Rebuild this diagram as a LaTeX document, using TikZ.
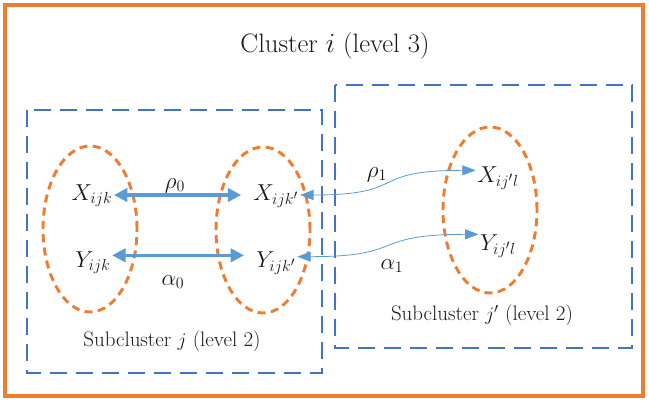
\documentclass[tikz,border=0pt]{standalone}
\usetikzlibrary{positioning,shapes.geometric,arrows.meta}
\DeclareMathSizes{17}{17}{12.5}{10}
\definecolor{clorange}{RGB}{237,125,49}
\definecolor{clblue}{RGB}{68,114,196}
\definecolor{arrblue}{RGB}{91,155,213}
\definecolor{txtgray}{RGB}{25,25,25}
\tikzset{outer/.style={draw=clorange, line width=2.4pt},
  subbox/.style={draw=clblue, line width=2.2pt, dash pattern=on 13pt off 6.5pt},
  group/.style={ellipse, draw=clorange, line width=2.2pt, dash pattern=on 6pt off 4pt, minimum width=70.5pt, minimum height=124.5pt},
  var/.style={text=txtgray, font=\fontsize{17}{19}\selectfont, inner sep=1pt, text height=13pt, text depth=5pt},
  lbl/.style={text=txtgray, font=\fontsize{15.7}{18}\selectfont, inner sep=1pt},
  link/.style={arrblue, line width=2.3pt, {Triangle[length=10pt,width=10pt]}-{Triangle[length=10pt,width=10pt]}},
  thinlink/.style={arrblue, line width=0.6pt, {Triangle[length=10pt,width=7.5pt]}-{Triangle[length=10pt,width=7.5pt]}}}

\begin{document}
\begin{tikzpicture}[x=0.75pt,y=-0.75pt]
    \useasboundingbox (0,0) rectangle (649,400);
    \draw[outer] (5,5) rectangle (643,396);
    \node[lbl, font=\fontsize{20}{24}\selectfont] (title) at (335,46) {Cluster $i$ (level 3)};

    % subclusters
    \draw[subbox] (27,110) rectangle (322,373);
    \draw[subbox] (335,85) rectangle (632,348);

    \node[group] (ga) at (90,229) {};
    \node[group] (gb) at (263,230) {};
    \node[group] (gc) at (490,210) {};

    \node[var] (xa) at (92,195) {$X_{ijk}$};
    \node[var] (ya) at (93,262) {$Y_{ijk}$};
    \node[var] (xb) at (276,195) {$X_{ijk'}$};
    \node[var] (yb) at (276,262) {$Y_{ijk'}$};
    \node[var] (xc) at (498,177) {$X_{ij'l}$};
    \node[var] (yc) at (498,245) {$Y_{ij'l}$};

    \draw[link] (xa.east) -- ([xshift=-8pt]xb.west);
    \draw[link] ([yshift=5pt]ya.east) -- ([yshift=5pt,xshift=-8pt]yb.west);
    \draw[thinlink] (xb.east) .. controls +(110,0) and +(-110,0) .. ([yshift=5pt]xc.west);
    \draw[thinlink] ([yshift=4pt]yb.east) .. controls +(110,0) and +(-110,0) .. ([yshift=8pt]yc.west);

    \node[var] (rho0) at (175,183) {$\rho_0$};
    \node[var] (alpha0) at (173,280) {$\alpha_0$};
    \node[var] (rho1) at (377,172) {$\rho_1$};
    \node[var] (alpha1) at (392,264) {$\alpha_1$};

    \node[lbl] (suba) at (172,341) {Subcluster $j$ (level 2)};
    \node[lbl] (subc) at (482,315) {Subcluster $j'$ (level 2)};
\end{tikzpicture}
\end{document}
